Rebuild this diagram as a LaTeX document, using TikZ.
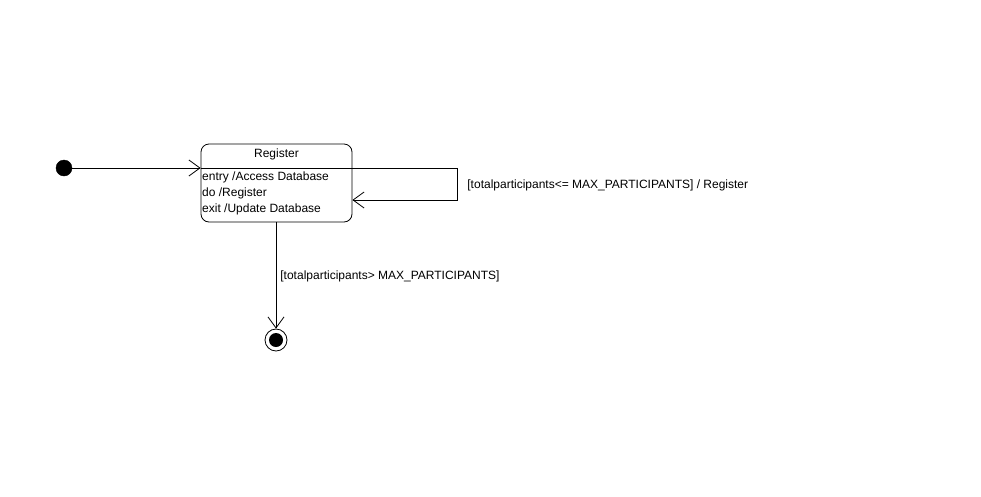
\documentclass[tikz,border=0pt]{standalone}
\usepackage{fontspec}
\setmainfont{Liberation Sans}
\usetikzlibrary{arrows.meta}
\tikzset{
      trans/.style={draw=black, line width=0.8, -{Straight Barb[length=11, width=16, line width=0.8]}},
      state/.style={draw=black, line width=0.8, rounded corners=8, minimum width=151, minimum height=78, inner sep=0},
      start/.style={circle, fill=black, draw=black, minimum size=16, inner sep=0},
      stop/.style={circle, draw=black, line width=0.8, minimum size=22, inner sep=0},
      lbl/.style={font=\fontsize{12}{14}\selectfont, inner sep=0, anchor=west},
}

\begin{document}
\begin{tikzpicture}[x=1pt, y=-1pt]
        \useasboundingbox (0,0) rectangle (981,496);

        % Draw the states
        \node[start] (init) at (64,168) {};
        \node[state] (reg) at (276.5,183) {};
        \node[lbl, anchor=center] (regname) at (276.5,154.5) {Register};
        \draw[line width=0.8] (reg.west |- 0,168) -- (reg.east |- 0,168);
        \node[lbl] (entry) at (202,177.5) {entry /Access Database};
        \node[lbl] (doact) at (202,193.5) {do /Register};
        \node[lbl] (exit) at (202,209.5) {exit /Update Database};
        \node[stop] (final) at (276,340) {};
        \fill (final.center) circle (7);

        % Draw the transitions
        \draw[trans] (init) -- (reg.west |- init);
        \coordinate (loopa) at (457,168);
        \coordinate (loopb) at (457,200);
        \draw[trans] (reg.east |- loopa) -- (loopa) -- (loopb)
              node[lbl, midway, right=10, yshift=-1.5] {[totalparticipants<= MAX\_PARTICIPANTS] / Register}
              -- (reg.east |- loopb);
        \draw[trans] (reg.south -| final) -- (final.north)
              node[lbl, midway, xshift=4, yshift=-1] {[totalparticipants> MAX\_PARTICIPANTS]};

    \end{tikzpicture}
\end{document}
